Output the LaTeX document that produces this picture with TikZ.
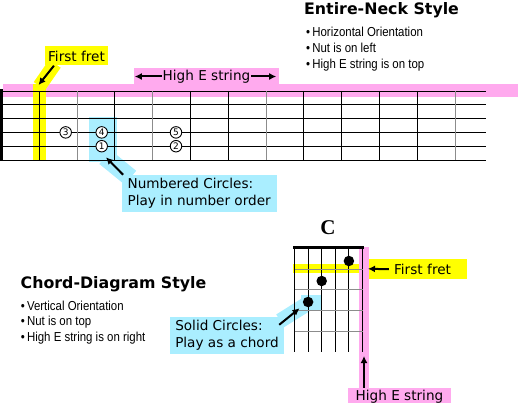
\documentclass[tikz,border=0pt]{standalone}
\usepackage{fontspec}
\setmainfont{DejaVu Sans}
\newfontfamily\noteFont[FakeStretch=0.88]{Liberation Sans}
\newfontfamily\chordFont{Liberation Serif}
\usepackage{tikz}
\usetikzlibrary{positioning,arrows.meta,backgrounds}
\definecolor{tabPink}{HTML}{FFAAEE}
\definecolor{tabYellow}{HTML}{FFFF00}
\definecolor{tabBlue}{HTML}{AAEEFF}
\definecolor{tabGray}{HTML}{8C8C8C}
\tikzset{
  tag/.style={inner xsep=3pt, inner ysep=2pt, font=\fontsize{13.6}{16.7}\selectfont, align=left},
  tagYellow/.style={tag, fill=tabYellow},
  tagPink/.style={tag, fill=tabPink},
  tagBlue/.style={tag, fill=tabBlue},
  strip/.style={line width=#1, line cap=butt},
  strip/.default=12pt,
  pointer/.style={-{Latex[length=7pt, width=7pt]}, line width=2pt},
  stringLine/.style={line width=0.9pt},
  fretLine/.style={line width=0.9pt},
  numCircle/.style={circle, draw, line width=0.9pt, fill=white, inner sep=0pt, minimum size=11.5pt, font=\fontsize{9}{9}\selectfont},
  fingerDot/.style={circle, fill=black, inner sep=0pt, minimum size=10.5pt},
  styleTitle/.style={font=\fontsize{15.8}{18}\selectfont\bfseries, anchor=base west, inner sep=0pt},
  noteLine/.style={font=\noteFont\fontsize{13}{15.8}\selectfont, anchor=base west, inner sep=0pt}
}

\begin{document}
\begin{tikzpicture}[x=1pt, y=-1pt]
  \useasboundingbox (0,0) rectangle (518,403);

  % entire neck
  \foreach \s in {0,...,5}
    \draw[stringLine] (0,{91+13.8*\s}) -- (486,{91+13.8*\s});
  \foreach \f/\shade in {0/black, 1/tabGray, 2/black, 3/tabGray, 4/black, 5/black,
                         6/tabGray, 7/black, 8/black, 9/black, 10/black, 11/tabGray}
    \draw[fretLine, draw=\shade] ({39.3+37.8*\f},91) -- ({39.3+37.8*\f},160);
  \fill (0,89.5) rectangle (3.3,161);

  \node[numCircle] (three) at (65.7,132.4) {3};
  \node[numCircle] (four)  at (101.7,132.4) {4};
  \node[numCircle] (one)   at (101.7,146.2) {1};
  \node[numCircle] (five)  at (176,132.4) {5};
  \node[numCircle] (two)   at (176,146.2) {2};

  % chord diagram
  \foreach \s in {0,...,5}
    \draw[stringLine] ({294.5+13.6*\s},247) -- ({294.5+13.6*\s},352);
  \foreach \f in {0,...,3}
    \draw[fretLine, draw=tabGray] (294.5,{269+20.9*\f}) -- (362.5,{269+20.9*\f});
  \fill (293.3,246.2) rectangle (364,248.6);

  \node[fingerDot] (dotB) at (348.9,261) {};
  \node[fingerDot] (dotD) at (321.7,281) {};
  \node[fingerDot] (dotA) at (308.1,302) {};
  \node[font=\chordFont\fontsize{21}{21}\selectfont\bfseries] (chordName) at (328,228) {C};

  % titles and notes
  \node[styleTitle] (neckTitle) at (304,15) {Entire-Neck Style};
  \node[noteLine] (neckNoteA) at (306,36.7) {•\,Horizontal Orientation};
  \node[noteLine, below=15.8pt of neckNoteA.base west, anchor=base west] (neckNoteB) {•\,Nut is on left};
  \node[noteLine, below=15.8pt of neckNoteB.base west, anchor=base west] (neckNoteC) {•\,High E string is on top};

  \node[styleTitle] (chordTitle) at (20.5,288.3) {Chord-Diagram Style};
  \node[noteLine] (chordNoteA) at (20.7,310) {•\,Vertical Orientation};
  \node[noteLine, below=15.8pt of chordNoteA.base west, anchor=base west] (chordNoteB) {•\,Nut is on top};
  \node[noteLine, below=15.8pt of chordNoteB.base west, anchor=base west] (chordNoteC) {•\,High E string is on right};

  % callouts
  \node[tagYellow, minimum width=61, minimum height=19] (fretTag) at (76.5,56) {First fret};
  \node[tagPink, minimum width=145, minimum height=17] (neckStrTag) at (206.5,76.5) {};
  \node[tag, inner sep=1pt] (neckStrText) at (neckStrTag) {High E string};
  \node[tagBlue, minimum width=155, minimum height=36.7] (circleTag) at (199.2,193.3) {Numbered Circles:\\Play in number order};
  \node[tagBlue, minimum width=114, minimum height=37] (solidTag) at (227,335.5) {Solid Circles:\\Play as a chord};
  \node[tagYellow, inner xsep=16pt, text width=66, align=right, minimum height=20.3] (chordFretTag) at (418,269.2) {First fret};
  \node[tagPink, minimum width=103, minimum height=18] (chordStrTag) at (399.5,397) {High E string};

  \coordinate (fretTip) at (38.5,85);
  \coordinate (oneTip) at (106,157.3);
  \coordinate (dotTip) at (299.5,308.3);
  \coordinate (chordFretTip) at (368,268.8);
  \coordinate (chordStrTip) at (364,356);

  \draw[pointer] ([xshift=9pt]fretTag.south west) -- (fretTip);
  \draw[pointer, shorten >=1pt] (neckStrText) -- (neckStrTag.west);
  \draw[pointer, shorten >=3pt] (neckStrText) -- (neckStrTag.east);
  \draw[pointer] ([xshift=1.6pt]circleTag.north west) -- (oneTip);
  \draw[pointer] ([xshift=-5pt, yshift=-8pt]solidTag.north east) -- (dotTip);
  \draw[pointer] ([xshift=20pt]chordFretTag.west) -- (chordFretTip);
  \draw[pointer] (chordStrTip |- chordStrTag.north) -- (chordStrTip);

  % highlights
  \begin{pgfonlayer}{background}
    \fill[tabPink] (3.3,84) rectangle (518,97);
    \fill[tabYellow] (33.3,84) rectangle (45.7,161);
    \draw[strip=14pt, tabYellow] ([xshift=10pt, yshift=2pt]fretTag.south west) -- (39.5,86);
    \fill[tabBlue] (89.3,117.3) rectangle (116.7,161.7);
    \draw[strip=18pt, tabBlue] (105,157) -- ([xshift=9pt, yshift=-3pt]circleTag.north west);
    \fill[tabBlue] (301,295) rectangle (321,311);
    \draw[strip=15pt, tabBlue] ([xshift=-4pt, yshift=-4pt]solidTag.north east) -- (307,304);
    \fill[tabYellow] (293,264) rectangle (360,273.3);
    \fill[tabPink] (359,247) rectangle (369,390);
  \end{pgfonlayer}
\end{tikzpicture}
\end{document}
